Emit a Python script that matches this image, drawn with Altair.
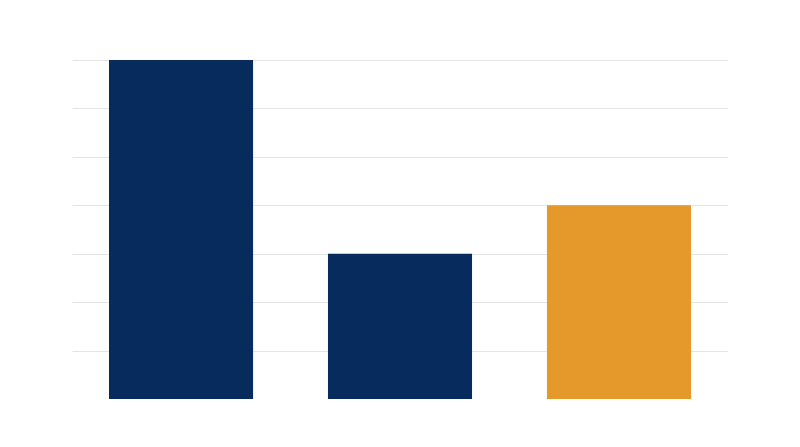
import altair as alt
import pandas as pd

categories = ["A", "B", "C"]
values = [7, 3, 4]
colors = ["#072b5d", "#072b5d", "#e5992b"]
grid_values = [0, 1, 2, 3, 4, 5, 6, 7]

df = pd.DataFrame({"cat": categories, "val": values, "col": colors})

chart = alt.Chart(df).mark_bar().encode(
    x=alt.X("cat:N", sort=categories,
            scale=alt.Scale(paddingInner=0.342, paddingOuter=0.169),
            axis=alt.Axis(title=None, labels=False, ticks=False, domain=False, grid=False)),
    y=alt.Y("val:Q", scale=alt.Scale(domain=[0, 7], nice=False, zero=True),
            axis=alt.Axis(title=None, labels=False, ticks=False, domain=False,
                          values=grid_values,
                          grid=True, gridColor="#e4e4e4", gridWidth=1)),
    color=alt.Color("col:N", scale=None, legend=None),
).properties(
    width=656, height=339,
    padding={"left": 64, "top": 52, "right": 0, "bottom": 0},
    autosize=alt.AutoSizeParams(type="none"),
).configure_view(stroke=None)

chart.save("out.html", embed_options={"renderer": "svg", "actions": False})
